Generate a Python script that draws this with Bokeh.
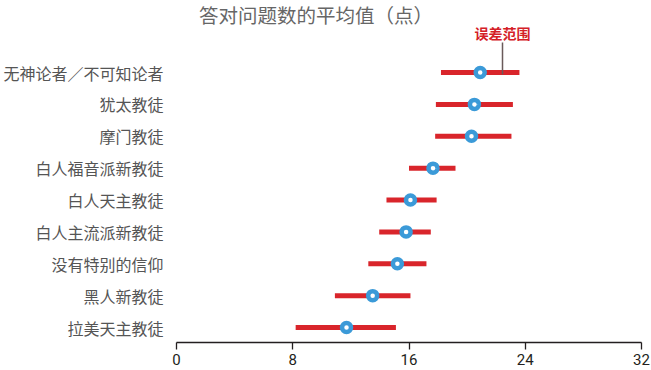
from bokeh.plotting import figure
from bokeh.models import Range1d, FixedTicker, Label, Arrow, ColumnDataSource
from bokeh.embed import file_html
from bokeh.resources import INLINE

# ---- data ----
categories = ["无神论者／不可知论者", "犹太教徒", "摩门教徒", "白人福音派新教徒",
              "白人天主教徒", "白人主流派新教徒", "没有特别的信仰", "黑人新教徒", "拉美天主教徒"]
mean_score = [20.9, 20.5, 20.3, 17.65, 16.1, 15.8, 15.2, 13.5, 11.7]
err_low = [18.2, 17.85, 17.8, 16.0, 14.45, 13.95, 13.2, 10.9, 8.2]
err_high = [23.6, 23.15, 23.05, 19.2, 17.9, 17.5, 17.2, 16.1, 15.1]
x_ticks = [0, 8, 16, 24, 32]
title_text = "答对问题数的平均值（点）"
callout_text = "误差范围"

RED = "#d9252b"
BLUE = "#3b9ad8"
CJK = "Noto Sans CJK SC"

n = len(categories)
ypos = [n - 1 - i for i in range(n)]

W, H = 651, 370
FRAME_H = 342
TOP_ROW_PX = 72
BOTTOM_GAP_PX = 15
step = (FRAME_H - BOTTOM_GAP_PX - TOP_ROW_PX) / (n - 1)
y_end = (n - 1) + TOP_ROW_PX / step
y_start = -BOTTOM_GAP_PX / step

src = ColumnDataSource(dict(y=ypos, cat=categories, m=mean_score, lo=err_low, hi=err_high))

p = figure(width=W, height=H, output_backend="svg", toolbar_location=None,
           x_range=Range1d(0, 32), y_range=Range1d(y_start, y_end),
           min_border_left=176, min_border_right=10, min_border_top=0,
           min_border_bottom=H - FRAME_H)
p.outline_line_color = None
p.background_fill_color = "white"
p.border_fill_color = "white"
p.xgrid.grid_line_color = None
p.ygrid.grid_line_color = None

p.segment(x0="lo", y0="y", x1="hi", y1="y", source=src, line_width=5,
          line_color=RED, line_cap="butt")
p.scatter(x="m", y="y", source=src, size=9, fill_color="white",
          line_color=BLUE, line_width=4.5)

# x axis
xa = p.xaxis[0]
xa.ticker = FixedTicker(ticks=x_ticks)
xa.minor_tick_line_color = None
xa.axis_line_color = "#231f20"
xa.axis_line_width = 1.5
xa.major_tick_line_color = "#231f20"
xa.major_tick_line_width = 1.3
xa.major_tick_out = 7
xa.major_tick_in = 0
xa.major_label_standoff = 4
xa.major_label_text_font = "Roboto"
xa.major_label_text_font_size = "15px"
xa.major_label_text_color = "#231f20"
xa.axis_label_standoff = 0
xa.axis_label_text_font_size = "0px"

# y axis (category labels)
ya = p.yaxis[0]
ya.ticker = FixedTicker(ticks=ypos)
ya.major_label_overrides = {y: c for y, c in zip(ypos, categories)}
ya.axis_line_color = None
ya.major_tick_line_color = None
ya.minor_tick_line_color = None
ya.major_label_standoff = 7
ya.major_label_text_font = CJK
ya.major_label_text_font_size = "16px"
ya.major_label_text_color = "#555555"

# title and callout, anchored to the top of the frame with pixel offsets
p.add_layout(Label(x=139.5, y=y_end, x_units="screen", y_units="data", y_offset=-14,
                   text=title_text,
                   text_font=CJK, text_font_size="19.5px", text_color="#666666",
                   text_align="center", text_baseline="middle"))
p.add_layout(Label(x=326, y=y_end, x_units="screen", y_units="data", y_offset=-32,
                   text=callout_text,
                   text_font=CJK, text_font_size="14px", text_font_style="bold",
                   text_color="#d42027", text_align="center", text_baseline="middle"))
p.add_layout(Arrow(end=None, x_start=326, y_start=FRAME_H - 42, x_end=326,
                   y_end=FRAME_H - TOP_ROW_PX - 2,
                   start_units="screen", end_units="screen",
                   line_color="#6a5a5a", line_width=1.5))

open("out.html", "w").write(file_html(p, INLINE))
